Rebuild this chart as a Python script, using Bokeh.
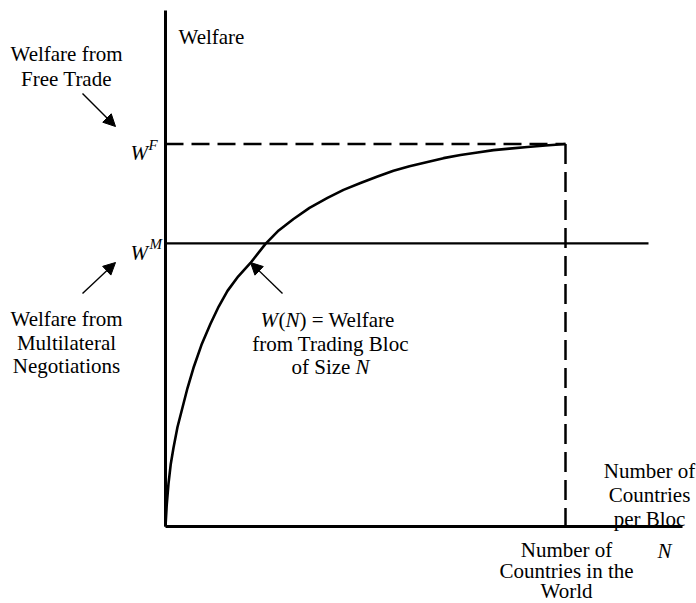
from bokeh.plotting import figure
from bokeh.models import Range1d, Arrow, NormalHead
from bokeh.core.properties import value
from bokeh.embed import file_html
from bokeh.resources import INLINE

# ---- data ----
N_curve = [0, 0.3, 0.75, 1.3, 2, 3, 4.25, 5.5, 7, 9, 11.25, 13.3, 15.5, 18.2, 21.25, 25, 28.3, 32,
           36, 40.5, 44.5, 48.75, 53, 57, 61, 65.5, 69.5, 73.75, 78, 82, 86, 90.5, 95, 100]
W_curve = [0, 5.5, 11.2, 16.2, 20.6, 26.0, 31.1, 36.2, 41.5, 47.5, 53.0, 57.5, 61.6, 65.4, 68.9, 73.9, 77.4, 80.4,
           83.3, 85.9, 88.0, 89.8, 91.5, 93.0, 94.2, 95.3, 96.3, 97.1, 97.8, 98.4, 98.8, 99.2, 99.6, 100]
W_F = 100          # welfare from free trade
W_M = 74           # welfare from multilateral negotiations
N_world = 100      # number of countries in the world
x_axis_end = 129.25
y_axis_top = 134.9
wm_line_end = 120.75

FONT = value("Liberation Serif")

W_PX, H_PX = 696, 603

# picture-pixel -> data helpers (for annotation placement)
def px(X):
    return (X - 165) / 4.0

def py(Y):
    return (526 - Y) / 3.825

p = figure(width=W_PX, height=H_PX, output_backend="svg", toolbar_location=None,
           x_range=Range1d(px(0), px(W_PX)), y_range=Range1d(py(H_PX), py(0)),
           min_border=0, min_border_left=0, min_border_right=0,
           min_border_top=0, min_border_bottom=0)
p.axis.visible = False
p.grid.visible = False
p.outline_line_color = None
p.background_fill_color = "white"
p.border_fill_color = "white"

# axes
p.line([0, 0], [0, y_axis_top], line_color="black", line_width=3)
p.line([0, x_axis_end], [0, 0], line_color="black", line_width=3)

# multilateral welfare line
p.line([0, wm_line_end], [W_M, W_M], line_color="black", line_width=2.2)

# free trade dashed lines
p.line([0, N_world], [W_F, W_F], line_color="black", line_width=2.5, line_dash="18 8")
p.line([N_world, N_world], [W_F, 0], line_color="black", line_width=2.5, line_dash="20 8")

# curve W(N)
p.line(N_curve, W_curve, line_color="black", line_width=2.6, line_join="round")

# arrows
def arrow(x0, y0, x1, y1):
    p.add_layout(Arrow(end=NormalHead(size=12, fill_color="black", line_color="black", line_width=1),
                       x_start=px(x0), y_start=py(y0), x_end=px(x1), y_end=py(y1),
                       line_color="black", line_width=1.4))

arrow(82, 93, 115, 126)
arrow(82, 293, 115, 262)
arrow(282, 293, 250, 262)

def txt(X, Y, s, align="center", italic=False, size="21px"):
    p.text(x=[px(X)], y=[py(Y)], text=[s], text_font=FONT, text_font_size=size,
           text_align=align, text_baseline="alphabetic", text_color="black",
           text_font_style="italic" if italic else "normal")

# labels
txt(178, 36, "Welfare", align="left")
txt(66, 53, "Welfare from")
txt(66, 78, "Free Trade")
txt(66, 318, "Welfare from")
txt(66, 342, "Multilateral")
txt(66, 365, "Negotiations")

# W^F and W^M
txt(130, 152, "W", align="left", italic=True)
txt(148, 144, "F", align="left", italic=True, size="15px")
txt(130, 252, "W", align="left", italic=True)
txt(149, 243, "M", align="left", italic=True, size="15px")

# W(N) label
txt(260, 319, "W", align="left", italic=True)
txt(278, 319, "(", align="left")
txt(285, 319, "N", align="left", italic=True)
txt(299, 319, ") = Welfare", align="left")
txt(330, 343, "from Trading Bloc")
txt(291, 366, "of Size ", align="left")
txt(355, 366, "N", align="left", italic=True)

# x-axis labels
txt(649, 470, "Number of")
txt(649, 494, "Countries")
txt(649, 518, "per Bloc")
txt(657, 550, "N", align="left", italic=True)
txt(566, 549, "Number of")
txt(566, 570, "Countries in the")
txt(566, 590, "World")

open("out.html", "w").write(file_html(p, INLINE))
